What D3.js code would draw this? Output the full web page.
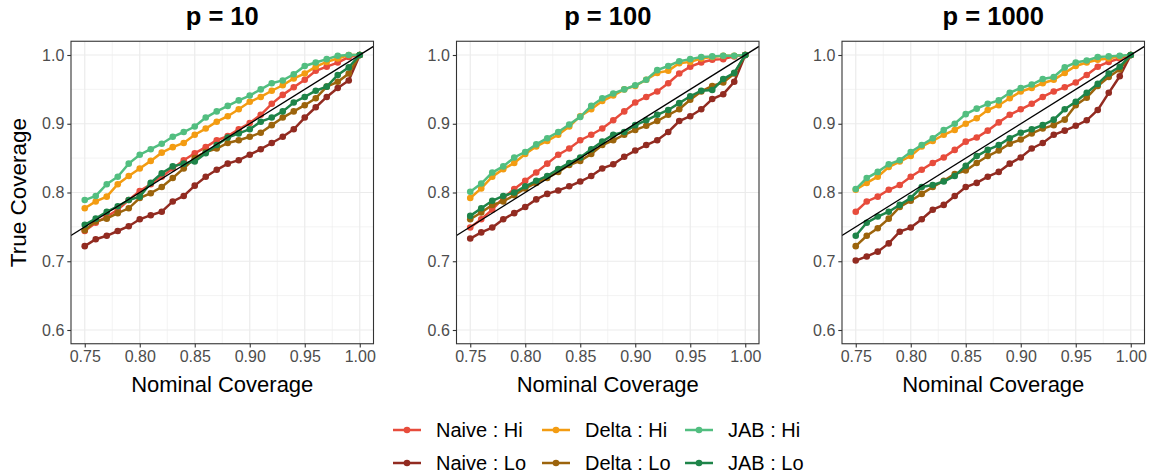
<!DOCTYPE html>
<html>
<head>
<meta charset="utf-8">
<script src="https://cdn.jsdelivr.net/npm/d3@7"></script>
<style>
  body { margin: 0; background: #fff; }
  svg { font-family: "Liberation Sans", Arial, sans-serif; display: block; }
</style>
</head>
<body>
<div id="main"></div>
<script>
// nominal coverage levels (x)
var nominal = [0.75, 0.76, 0.77, 0.78, 0.79, 0.80, 0.81, 0.82, 0.83, 0.84, 0.85, 0.86, 0.87,
               0.88, 0.89, 0.90, 0.91, 0.92, 0.93, 0.94, 0.95, 0.96, 0.97, 0.98, 0.99, 1.00];
var panelTitles = ["p = 10", "p = 100", "p = 1000"];
var seriesNames = ["Naive : Hi", "Naive : Lo", "Delta : Hi", "Delta : Lo", "JAB : Hi", "JAB : Lo"];
var seriesColors = ["#E74C3C", "#922B21", "#F39C12", "#9C640C", "#52BE80", "#1E8449"];
var xTicks = [0.75, 0.80, 0.85, 0.90, 0.95, 1.00];
var yTicks = [0.6, 0.7, 0.8, 0.9, 1.0];

// p = 10
var naiveHi10 = [0.744,0.756,0.765,0.775,0.789,0.802,0.812,0.823,0.835,0.847,0.857,0.866,0.876,0.882,0.892,0.901,0.913,0.929,0.942,0.953,0.964,0.977,0.983,0.989,0.997,1.0];
var naiveLo10 = [0.722,0.732,0.737,0.744,0.751,0.761,0.767,0.772,0.787,0.795,0.810,0.823,0.833,0.842,0.847,0.855,0.863,0.872,0.881,0.892,0.909,0.924,0.939,0.952,0.963,1.0];
var deltaHi10 = [0.777,0.787,0.794,0.812,0.824,0.835,0.846,0.858,0.866,0.872,0.884,0.893,0.903,0.911,0.921,0.932,0.939,0.948,0.956,0.966,0.973,0.983,0.990,0.995,1.0,1.0];
var deltaLo10 = [0.745,0.758,0.762,0.770,0.777,0.792,0.799,0.808,0.821,0.835,0.850,0.859,0.864,0.872,0.876,0.881,0.887,0.898,0.909,0.918,0.927,0.937,0.954,0.961,0.973,1.0];
var jabHi10   = [0.789,0.795,0.812,0.823,0.842,0.855,0.863,0.871,0.881,0.888,0.896,0.909,0.918,0.926,0.934,0.941,0.950,0.959,0.963,0.972,0.984,0.989,0.994,0.999,1.0,1.0];
var jabLo10   = [0.753,0.762,0.772,0.780,0.789,0.794,0.814,0.828,0.838,0.842,0.845,0.857,0.869,0.880,0.886,0.892,0.903,0.909,0.918,0.931,0.939,0.948,0.954,0.971,0.982,1.0];

// p = 100
var naiveHi100 = [0.749,0.761,0.775,0.792,0.805,0.817,0.829,0.842,0.855,0.864,0.876,0.884,0.893,0.905,0.918,0.931,0.939,0.947,0.959,0.973,0.983,0.989,0.993,0.994,0.998,1.0];
var naiveLo100 = [0.733,0.742,0.749,0.761,0.770,0.779,0.790,0.798,0.803,0.809,0.816,0.824,0.835,0.841,0.852,0.861,0.869,0.876,0.888,0.904,0.911,0.921,0.936,0.943,0.961,1.0];
var deltaHi100 = [0.792,0.806,0.823,0.834,0.843,0.856,0.867,0.875,0.884,0.896,0.911,0.921,0.933,0.941,0.950,0.955,0.964,0.974,0.977,0.988,0.990,0.995,0.997,0.999,0.999,1.0];
var deltaLo100 = [0.761,0.771,0.782,0.787,0.796,0.806,0.814,0.821,0.830,0.840,0.846,0.856,0.869,0.876,0.884,0.891,0.897,0.904,0.913,0.921,0.935,0.947,0.955,0.960,0.973,1.0];
var jabHi100   = [0.801,0.813,0.829,0.838,0.851,0.859,0.870,0.879,0.888,0.899,0.910,0.926,0.937,0.944,0.950,0.956,0.964,0.978,0.984,0.991,0.994,0.997,0.998,0.999,0.999,1.0];
var jabLo100   = [0.766,0.777,0.788,0.795,0.800,0.809,0.817,0.824,0.834,0.843,0.851,0.863,0.874,0.884,0.888,0.898,0.905,0.913,0.920,0.930,0.940,0.948,0.949,0.965,0.974,1.0];

// p = 1000
var naiveHi1000 = [0.772,0.787,0.794,0.804,0.811,0.823,0.833,0.843,0.851,0.862,0.874,0.880,0.890,0.902,0.913,0.921,0.929,0.939,0.947,0.953,0.960,0.971,0.983,0.990,0.995,1.0];
var naiveLo1000 = [0.701,0.707,0.714,0.726,0.743,0.749,0.761,0.775,0.782,0.795,0.808,0.814,0.823,0.830,0.842,0.851,0.864,0.872,0.884,0.890,0.897,0.905,0.920,0.945,0.969,1.0];
var deltaHi1000 = [0.804,0.814,0.823,0.837,0.845,0.853,0.867,0.875,0.884,0.891,0.900,0.908,0.920,0.927,0.937,0.947,0.952,0.959,0.964,0.974,0.984,0.989,0.993,0.995,0.998,1.0];
var deltaLo1000 = [0.722,0.737,0.748,0.762,0.779,0.788,0.798,0.808,0.817,0.827,0.832,0.843,0.853,0.861,0.871,0.877,0.886,0.893,0.898,0.906,0.927,0.938,0.955,0.968,0.979,1.0];
var jabHi1000   = [0.805,0.821,0.830,0.841,0.847,0.859,0.869,0.879,0.891,0.900,0.914,0.922,0.929,0.934,0.945,0.952,0.957,0.965,0.968,0.982,0.989,0.992,0.997,0.998,0.999,1.0];
var jabLo1000   = [0.737,0.756,0.765,0.772,0.782,0.792,0.808,0.811,0.816,0.824,0.839,0.853,0.862,0.869,0.879,0.887,0.892,0.898,0.906,0.921,0.932,0.945,0.958,0.973,0.983,1.0];

var panelSeries = [
    [naiveHi10, naiveLo10, deltaHi10, deltaLo10, jabHi10, jabLo10],
    [naiveHi100, naiveLo100, deltaHi100, deltaLo100, jabHi100, jabLo100],
    [naiveHi1000, naiveLo1000, deltaHi1000, deltaLo1000, jabHi1000, jabLo1000]
];

var width = 1153, height = 476;
var panelLeft = [71, 456.5, 842];
var panelTop = 41.25, panelW = 302.5, panelH = 302.5;

var svg = d3.select("#main").append("svg")
    .attr("width", width)
    .attr("height", height);

var x = d3.scaleLinear().domain([0.7375, 1.0125]).range([0, panelW]);
var y = d3.scaleLinear().domain([0.58, 1.02]).range([panelH, 0]);

var xMinor = [0.775, 0.825, 0.875, 0.925, 0.975];
var yMinor = [0.65, 0.75, 0.85, 0.95];

var line = d3.line()
    .x((d, i) => x(nominal[i]))
    .y(d => y(d));

panelTitles.forEach(function (title, p) {
    var g = svg.append("g")
        .attr("transform", "translate(" + panelLeft[p] + "," + panelTop + ")");

    g.append("clipPath").attr("id", "clip" + p)
        .append("rect").attr("width", panelW).attr("height", panelH);

    // grid
    g.selectAll(".gminx").data(xMinor).enter().append("line")
        .attr("x1", d => x(d)).attr("x2", d => x(d))
        .attr("y1", 0).attr("y2", panelH)
        .attr("stroke", "#EBEBEB").attr("stroke-width", 0.6);
    g.selectAll(".gminy").data(yMinor).enter().append("line")
        .attr("y1", d => y(d)).attr("y2", d => y(d))
        .attr("x1", 0).attr("x2", panelW)
        .attr("stroke", "#EBEBEB").attr("stroke-width", 0.6);
    g.selectAll(".gx").data(xTicks).enter().append("line")
        .attr("x1", d => x(d)).attr("x2", d => x(d))
        .attr("y1", 0).attr("y2", panelH)
        .attr("stroke", "#EBEBEB").attr("stroke-width", 1.2);
    g.selectAll(".gy").data(yTicks).enter().append("line")
        .attr("y1", d => y(d)).attr("y2", d => y(d))
        .attr("x1", 0).attr("x2", panelW)
        .attr("stroke", "#EBEBEB").attr("stroke-width", 1.2);

    var plot = g.append("g").attr("clip-path", "url(#clip" + p + ")");

    panelSeries[p].forEach(function (vals, s) {
        plot.append("path")
            .datum(vals)
            .attr("d", line)
            .attr("fill", "none")
            .attr("stroke", seriesColors[s])
            .attr("stroke-width", 2.5);
        plot.selectAll(".pt" + s).data(vals).enter().append("circle")
            .attr("cx", (d, i) => x(nominal[i]))
            .attr("cy", d => y(d))
            .attr("r", 3.3)
            .attr("fill", seriesColors[s]);
    });

    // y = x reference line
    plot.append("line")
        .attr("x1", x(0.7375)).attr("y1", y(0.7375))
        .attr("x2", x(1.0125)).attr("y2", y(1.0125))
        .attr("stroke", "#000").attr("stroke-width", 1.3);

    g.append("rect")
        .attr("width", panelW).attr("height", panelH)
        .attr("fill", "none").attr("stroke", "#333333").attr("stroke-width", 1.1);

    // axes
    var xAxis = g.append("g")
        .attr("transform", "translate(0," + panelH + ")")
        .call(d3.axisBottom(x).tickValues(xTicks).tickFormat(d3.format(".2f")).tickSize(3.7).tickPadding(3));
    var yAxis = g.append("g")
        .call(d3.axisLeft(y).tickValues(yTicks).tickFormat(d3.format(".1f")).tickSize(3.7).tickPadding(3));
    [xAxis, yAxis].forEach(function (a) {
        a.select(".domain").remove();
        a.selectAll(".tick line").attr("stroke", "#333333").attr("stroke-width", 1.1);
        a.selectAll(".tick text")
            .attr("fill", "#4D4D4D")
            .style("font-size", "16px")
            .style("font-family", "'Liberation Sans', Arial, sans-serif");
    });

    // title
    svg.append("text")
        .attr("x", panelLeft[p] + panelW / 2)
        .attr("y", 25)
        .attr("text-anchor", "middle")
        .style("font-size", "25.5px")
        .style("font-weight", "bold")
        .text(title);

    svg.append("text")
        .attr("x", panelLeft[p] + panelW / 2)
        .attr("y", 391.5)
        .attr("text-anchor", "middle")
        .style("font-size", "22px")
        .text("Nominal Coverage");
});

svg.append("text")
    .attr("transform", "translate(26," + (panelTop + panelH / 2) + ") rotate(-90)")
    .attr("text-anchor", "middle")
    .style("font-size", "22.5px")
    .text("True Coverage");

// legend: 2 rows x 3 columns, filled column-wise
var legendCols = [393, 542, 685];
var legendRows = [430, 463];
var legend = svg.append("g");
seriesNames.forEach(function (name, s) {
    var cx = legendCols[Math.floor(s / 2)];
    var cy = legendRows[s % 2];
    var item = legend.append("g").attr("transform", "translate(" + cx + "," + cy + ")");
    item.append("line")
        .attr("x1", 0).attr("x2", 28).attr("y1", 0).attr("y2", 0)
        .attr("stroke", seriesColors[s]).attr("stroke-width", 2.5);
    item.append("circle").attr("cx", 14).attr("cy", 0).attr("r", 3.3)
        .attr("fill", seriesColors[s]);
    item.append("text")
        .attr("x", 43).attr("y", 0).attr("dy", "0.35em")
        .style("font-size", "20px")
        .text(name);
});
</script>
</body>
</html>
